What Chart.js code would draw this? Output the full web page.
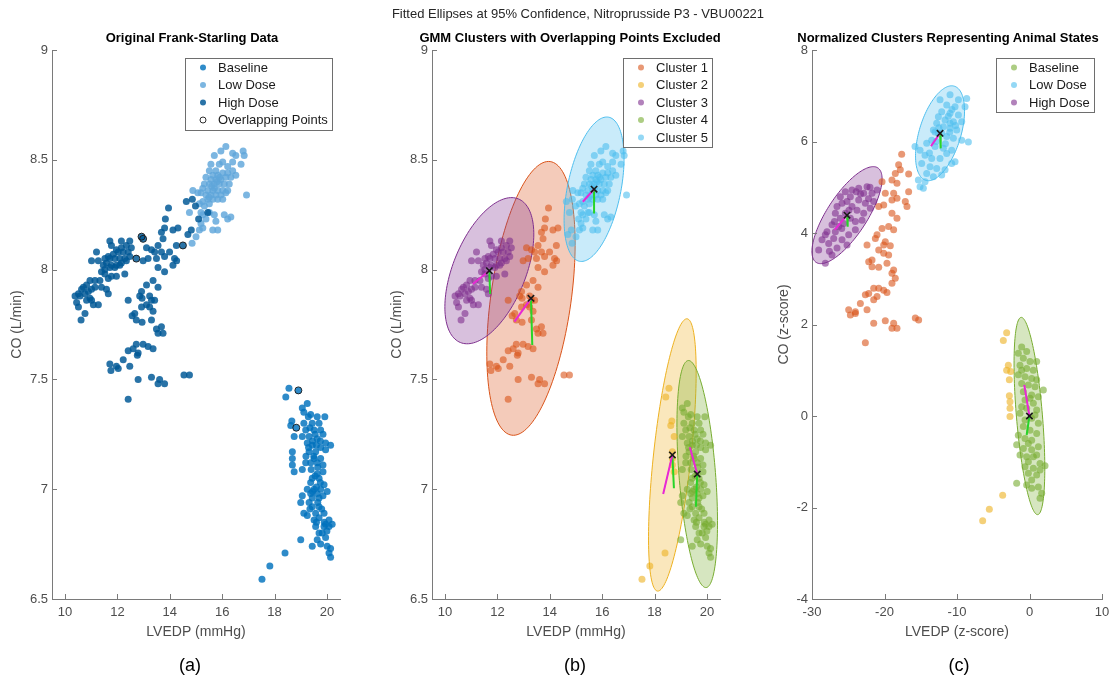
<!DOCTYPE html>
<html>
<head>
<meta charset="utf-8">
<title>Fitted Ellipses at 95% Confidence</title>
<script src="https://cdn.jsdelivr.net/npm/chart.js@4.4.1/dist/chart.umd.min.js"></script>
<style>
  body { margin: 0; background: #fff; font-family: "Liberation Sans", Arial, sans-serif; }
  #page { position: relative; width: 1114px; height: 680px; overflow: hidden; }
  canvas { position: absolute; top: 0; }
  .txt { position: absolute; white-space: nowrap; transform: translateX(-50%); }
  .sup { top: 6px; font-size: 13px; line-height: 16px; color: #262626; }
  .sub { top: 30px; font-size: 13px; line-height: 16px; font-weight: bold; color: #000; }
  .tag { top: 655px; font-size: 18px; line-height: 21px; color: #000; }
</style>
</head>
<body>
<div id="page">
  <canvas id="chartA" width="370" height="680" style="left:0"></canvas>
  <canvas id="chartB" width="370" height="680" style="left:370px"></canvas>
  <canvas id="chartC" width="374" height="680" style="left:740px"></canvas>
  <div class="txt sup" style="left:578px">Fitted Ellipses at 95% Confidence, Nitroprusside P3 - VBU00221</div>
  <div class="txt sub" style="left:192px">Original Frank-Starling Data</div>
  <div class="txt sub" style="left:570px">GMM Clusters with Overlapping Points Excluded</div>
  <div class="txt sub" style="left:948px">Normalized Clusters Representing Animal States</div>
  <div class="txt tag" style="left:190px">(a)</div>
  <div class="txt tag" style="left:575px">(b)</div>
  <div class="txt tag" style="left:959px">(c)</div>
</div>
<script>
// raw points: [LVEDP, CO, GMM cluster]; cluster 0 = overlapping point (dropped in b)
const baseline = [
  [18.55,7.46,2],[18.91,7.45,0],[18.43,7.42,2],[19.25,7.39,4],[19.06,7.37,4],[19.12,7.35,4],[19.38,7.34,4],
  [19.29,7.33,4],[19.63,7.33,4],[19.92,7.33,4],[18.66,7.31,2],[18.83,7.28,0],[18.62,7.29,2],[19.12,7.30,4],
  [19.44,7.30,4],[19.70,7.30,4],[19.19,7.27,4],[19.51,7.27,4],[19.76,7.27,4],[18.75,7.24,2],[19.06,7.24,4],
  [19.32,7.24,4],[19.63,7.23,4],[19.95,7.21,4],[20.14,7.20,4],[19.25,7.21,4],[19.44,7.20,4],[19.76,7.19,4],
  [19.95,7.18,4],[18.68,7.17,2],[19.32,7.17,4],[19.57,7.17,4],[18.68,7.14,2],[19.51,7.14,4],[19.76,7.14,4],
  [18.68,7.11,2],[19.19,7.12,4],[19.38,7.12,4],[19.63,7.12,4],[19.85,7.11,4],[18.75,7.08,2],[19.06,7.09,4],
  [19.85,7.08,4],[19.44,7.05,4],[19.63,7.07,4],[19.70,7.05,4],[19.38,7.03,4],[19.89,7.02,4],[19.25,7.00,4],
  [19.51,7.00,4],[19.76,7.00,4],[20.01,6.99,4],[19.38,6.98,4],[19.63,6.98,4],[19.06,6.97,4],[19.44,6.96,4],
  [19.70,6.96,4],[19.00,6.94,4],[19.32,6.94,4],[19.70,6.92,4],[19.44,6.92,4],[19.12,6.89,4],[19.25,6.88,4],
  [19.57,6.89,4],[19.89,6.89,4],[19.70,6.87,4],[19.51,6.86,4],[20.08,6.86,4],[19.95,6.84,4],[20.20,6.84,4],
  [19.57,6.83,4],[19.89,6.83,4],[20.08,6.83,4],[19.82,6.80,4],[19.95,6.78,4],[19.00,6.77,4],[19.63,6.77,4],
  [19.76,6.75,4],[19.44,6.74,4],[20.01,6.74,4],[20.14,6.73,4],[20.08,6.71,4],[20.14,6.69,4],[18.40,6.71,2],
  [17.82,6.65,2],[17.52,6.59,2],[19.35,7.28,4],[19.55,7.25,4],[19.45,7.22,4],[19.60,7.20,4],[19.30,7.19,4],
  [19.50,7.15,4],[19.65,7.10,4],[19.40,7.09,4],[19.55,7.06,4],[19.75,7.03,4],[19.60,7.01,4],[19.85,6.97,4],
  [19.45,6.99,4],[19.65,6.94,4],[19.80,6.91,4],[19.35,6.91,4],[19.90,6.85,4],[19.60,6.85,4],[19.70,6.80,4],
  [20.00,6.81,4],[19.75,7.22,4],[19.20,7.15,4],[19.85,7.25,4]
];
const lowDose = [
  [16.14,8.56,5],[15.95,8.54,5],[15.70,8.52,5],[16.40,8.53,5],[16.52,8.52,5],[16.80,8.54,5],[16.84,8.52,5],
  [16.72,8.48,5],[16.40,8.49,5],[16.21,8.47,5],[16.02,8.49,5],[15.89,8.48,5],[15.57,8.48,5],[15.76,8.45,5],
  [15.51,8.45,5],[15.64,8.43,5],[15.83,8.43,5],[16.02,8.44,5],[16.21,8.44,5],[16.40,8.45,5],[16.52,8.43,5],
  [16.33,8.42,5],[16.14,8.42,5],[15.95,8.41,5],[15.76,8.41,5],[15.57,8.41,5],[15.38,8.42,5],[15.32,8.39,5],
  [15.51,8.39,5],[15.70,8.39,5],[15.89,8.39,5],[16.08,8.39,5],[16.27,8.39,5],[15.26,8.37,5],[15.45,8.36,5],
  [15.64,8.36,5],[15.83,8.36,5],[16.02,8.36,5],[16.21,8.36,5],[15.19,8.35,5],[15.38,8.34,5],[15.57,8.34,5],
  [15.76,8.34,5],[15.95,8.34,5],[16.14,8.35,5],[15.45,8.32,5],[15.64,8.32,5],[15.83,8.32,5],[16.02,8.32,5],
  [14.88,8.36,5],[15.07,8.35,5],[15.26,8.31,5],[16.93,8.34,5],[15.13,8.30,5],[15.32,8.29,5],[15.51,8.30,5],
  [14.75,8.26,5],[15.19,8.26,5],[15.26,8.25,5],[15.51,8.26,5],[15.70,8.25,5],[16.08,8.25,5],[16.21,8.23,5],
  [16.33,8.24,5],[15.76,8.22,5],[15.19,8.21,5],[15.26,8.19,5],[15.64,8.18,5],[15.83,8.18,5],[15.00,8.15,5],
  [14.85,8.12,5],[15.13,8.18,5],[15.38,8.23,5],[15.60,8.38,5],[15.80,8.40,5],[15.70,8.37,5],[15.90,8.42,5],
  [15.50,8.33,5]
];
const highDose = [
  [11.71,8.13,3],[12.15,8.13,3],[12.47,8.13,3],[12.92,8.15,0],[12.98,8.14,0],[11.77,8.11,3],[11.96,8.09,3],
  [12.15,8.10,3],[12.34,8.11,3],[12.53,8.10,3],[12.41,8.08,3],[12.22,8.08,3],[12.03,8.08,3],[11.84,8.07,3],
  [11.65,8.06,3],[11.52,8.05,3],[11.71,8.05,3],[11.90,8.05,3],[12.09,8.05,3],[12.28,8.05,3],[12.47,8.06,3],
  [12.34,8.04,3],[12.15,8.03,3],[11.96,8.02,3],[11.77,8.02,3],[11.58,8.03,3],[11.46,8.02,3],[11.52,8.00,3],
  [11.71,8.01,3],[11.90,8.01,3],[12.09,8.02,3],[11.27,8.04,3],[11.01,8.04,3],[11.20,8.08,3],[11.39,7.99,3],
  [11.52,7.98,3],[11.65,7.96,3],[11.77,7.97,3],[11.96,7.97,3],[12.28,7.98,3],[11.33,7.95,3],[11.14,7.95,3],
  [10.95,7.95,3],[10.82,7.93,3],[10.70,7.92,3],[10.63,7.91,3],[10.51,7.89,3],[10.38,7.88,3],[10.57,7.88,3],
  [10.76,7.89,3],[10.89,7.90,3],[11.01,7.91,3],[11.14,7.92,3],[10.95,7.87,3],[10.82,7.86,3],[11.01,7.86,3],
  [11.08,7.84,3],[11.27,7.84,3],[10.44,7.85,3],[10.51,7.83,3],[10.76,7.80,3],[10.61,7.77,3],[11.58,7.91,3],
  [11.65,7.89,3],[11.39,7.92,3],
  [12.72,8.05,0],[12.98,8.04,1],[13.17,8.05,1],[13.11,8.10,1],[13.30,8.09,1],[13.42,8.08,1],[13.55,8.11,1],
  [13.74,8.14,1],[13.68,8.17,1],[13.80,8.19,1],[14.12,8.18,1],[14.31,8.19,1],[14.50,8.11,0],[14.25,8.11,1],
  [14.69,8.16,5],[13.68,8.08,1],[13.80,8.06,1],[13.99,8.08,1],[14.18,8.05,1],[14.12,8.02,1],[13.55,8.01,1],
  [13.80,7.99,1],[13.49,8.05,1],[13.36,7.95,1],[13.55,7.92,1],[13.11,7.93,1],[12.92,7.90,1],[12.85,7.88,1],
  [12.94,7.87,1],[12.41,7.86,1],[13.23,7.88,1],[13.30,7.86,1],[13.42,7.86,1],[13.11,7.84,1],[12.92,7.83,1],
  [13.23,7.83,1],[13.36,7.81,1],[12.66,7.80,1],[12.56,7.79,1],[12.72,7.77,1],[12.94,7.76,1],[13.30,7.77,1],
  [13.49,7.73,1],[13.68,7.74,1],[13.55,7.71,1],[13.74,7.71,1],
  [12.72,7.66,1],[12.98,7.66,1],[13.17,7.65,1],[13.36,7.64,1],[12.60,7.64,1],[12.41,7.63,1],[12.79,7.62,1],
  [12.76,7.61,1],[12.22,7.59,1],[11.96,7.56,1],[11.71,7.57,1],[12.03,7.55,1],[11.75,7.54,1],[12.47,7.56,1],
  [12.79,7.50,1],[13.30,7.51,1],[13.61,7.50,1],[13.55,7.48,1],[13.80,7.48,1],[14.54,7.52,1],[14.75,7.52,1],
  [12.41,7.41,1],
  [13.95,8.28,1],[13.83,8.23,1],[14.63,8.31,5],[14.86,8.32,5],[15.45,8.26,5],[15.10,8.23,5],[14.98,8.29,5],
  [14.82,8.18,5],[14.26,8.04,1]
];

// z-scored points per cluster (relative to baseline)
const zBaseline = [
  [-1.08,1.51],[-1.54,1.37],[-0.85,1.26],[0.07,1.19],[0.99,1.19],[-1.31,1.11],[-0.39,1.04],[0.53,1.00],
  [-1.54,0.90],[-0.62,0.86],[0.30,0.82],[0.99,0.79],[-1.08,0.71],[-0.16,0.68],[0.76,0.64],[1.91,0.57],
  [-0.85,0.53],[0.30,0.46],[1.22,0.42],[-0.62,0.35],[0.53,0.28],[-0.39,0.17],[0.99,0.13],[-1.31,0.06],
  [0.30,-0.05],[1.22,-0.16],[-0.85,-0.23],[0.07,-0.31],[0.99,-0.38],[-1.54,-0.42],[-0.62,-0.49],[0.30,-0.53],
  [-1.77,-0.63],[-0.85,-0.71],[0.30,-0.74],[1.22,-0.67],[-1.31,-0.85],[-0.39,-0.89],[0.99,-0.85],[-0.16,-1.00],
  [1.45,-1.04],[2.14,-1.09],[-0.62,-1.11],[0.53,-1.14],[1.45,-1.18],[-0.16,-1.25],[0.99,-1.29],[0.30,-1.40],
  [-1.77,-1.47],[-0.39,-1.51],[1.22,-1.55],[0.30,-1.58],[1.68,-1.69],[1.45,-1.80],[-1.08,1.00],[-0.39,1.41],
  [-0.62,-0.09],[0.76,0.02],[-1.08,0.20],[0.07,0.39],[-0.16,-0.60],[0.53,-0.89]
];
const zLowDose = [
  [-10.96,7.02],[-9.81,6.91],[-8.66,6.94],[-8.89,6.76],[-10.27,6.76],[-11.42,6.80],[-12.11,6.65],[-10.96,6.62],
  [-9.81,6.58],[-9.35,6.43],[-10.50,6.43],[-11.65,6.47],[-12.57,6.54],[-12.80,6.40],[-11.88,6.32],[-10.96,6.29],
  [-10.04,6.25],[-13.26,6.25],[-12.57,6.18],[-11.42,6.11],[-10.50,6.07],[-13.49,6.03],[-14.18,5.96],[-13.03,5.89],
  [-11.88,5.85],[-15.10,5.81],[-15.79,5.89],[-14.41,5.70],[-13.49,5.63],[-12.34,5.63],[-11.42,5.74],[-14.87,5.52],
  [-13.72,5.45],[-12.80,5.41],[-11.65,5.38],[-10.73,5.52],[-10.27,5.56],[-14.18,5.30],[-13.26,5.23],[-12.11,5.27],
  [-15.33,5.16],[-14.41,5.12],[-15.10,5.01],[-14.64,4.98],[-8.43,5.99],[-12.34,6.91],[-9.35,6.03],[-10.73,5.81],
  [-13.03,6.21],[-10.96,6.40],[-12.11,6.18],[-11.20,6.55],[-10.70,6.70],[-12.90,6.00],[-11.60,5.95],[-13.80,5.75],
  [-10.20,6.35],[-12.50,6.30],[-11.00,6.20]
];
const zHighDose = [
  [-28.16,3.34],[-29.08,3.63],[-28.62,3.85],[-27.70,3.77],[-27.01,3.88],[-27.93,4.03],[-26.78,4.03],[-27.24,4.18],
  [-26.32,4.14],[-25.63,4.21],[-26.09,4.32],[-26.78,4.43],[-25.40,4.43],[-24.71,4.32],[-24.02,4.25],[-23.10,4.28],
  [-24.48,4.58],[-25.17,4.69],[-25.86,4.65],[-23.56,4.72],[-22.64,4.65],[-21.95,4.54],[-22.87,4.87],[-21.72,4.87],
  [-23.56,4.98],[-22.41,5.01],[-24.48,4.94],[-24.71,4.79],[-26.09,4.79],[-25.40,4.90],[-21.49,4.69],[-26.55,4.58],
  [-28.16,3.96],[-25.86,3.85],[-24.94,3.96],[-25.17,3.74],[-26.55,3.67],[-24.02,4.07],[-22.87,4.43],[-23.79,4.50],
  [-21.03,4.94],[-27.24,3.52],[-23.30,4.85],[-22.20,4.75],[-24.90,4.50],[-25.90,4.10],[-27.60,3.60],[-22.00,5.00],
  [-23.90,4.90],[-26.90,4.25]
];
const zCluster1 = [
  [-18.05,5.49],[-18.51,5.30],[-17.82,5.38],[-16.67,5.29],[-18.97,5.16],[-18.28,5.09],[-20.34,5.12],[-19.89,4.87],
  [-18.74,4.87],[-18.28,4.76],[-18.97,4.72],[-17.13,4.69],[-16.67,4.90],[-16.90,4.58],[-20.11,4.61],[-20.80,4.58],
  [-18.97,4.43],[-18.28,4.32],[-19.43,4.14],[-18.74,4.07],[-20.34,4.10],[-21.03,3.96],[-21.26,3.88],[-19.89,3.81],
  [-20.11,3.74],[-19.20,3.72],[-20.80,3.63],[-20.11,3.56],[-22.41,3.74],[-19.43,3.52],[-21.72,3.41],[-22.18,3.37],
  [-21.72,3.26],[-20.80,3.25],[-19.66,3.34],[-18.74,3.19],[-18.97,3.12],[-18.51,3.01],[-18.97,2.90],[-21.49,2.79],
  [-20.80,2.79],[-20.11,2.75],[-19.66,2.70],[-22.18,2.68],[-22.64,2.65],[-21.03,2.61],[-21.49,2.54],[-23.33,2.46],
  [-22.41,2.32],[-24.94,2.32],[-24.02,2.28],[-24.71,2.21],[-24.02,2.24],[-21.49,2.03],[-19.89,2.08],[-18.74,2.03],
  [-18.97,1.92],[-18.28,1.92],[-15.75,2.14],[-15.29,2.10],[-22.64,1.60],[-17.63,5.72]
];
const zCluster2 = [
  [-3.15,1.82],[-3.61,1.65],[-2.92,1.11],[-3.15,1.00],[-2.60,0.97],[-2.78,0.79],[-2.78,0.44],[-2.69,0.31],
  [-2.69,0.17],[-2.69,-0.01],[-3.70,-1.73],[-5.54,-2.04],[-6.46,-2.29]
];

// GMM fit (b): centre, end of magenta / green direction lines, 95% ellipse semi-axis vectors [px, py, qx, qy]
const centresB = [[13.28,7.869],[18.68,7.156],[11.69,7.995],[19.63,7.069],[15.69,8.366]];
const magentaEndB = [[12.65,7.763],[18.33,6.978],[11.06,7.934],[19.35,7.191],[15.26,8.309]];
const greenEndB = [[13.33,7.657],[18.74,7.004],[11.72,7.889],[19.58,6.920],[15.69,8.256]];
const axesB = [[0.734,0.623,-1.519,0.025],[0.565,0.620,-0.713,0.009],[1.107,0.327,-1.288,0.062],[-0.341,0.517,-0.696,-0.007],[0.560,0.328,-0.999,0.024]];

// normalized fit (c), in the order Baseline, Low Dose, High Dose
const stateNames = ['Baseline', 'Low Dose', 'High Dose'];
const stateClusters = [4, 5, 3];
const centresC = [[-0.01,0.0],[-12.34,6.18],[-25.17,4.39]];
const magentaEndC = [[-0.72,0.68],[-13.59,5.90],[-26.87,4.066]];
const greenEndC = [[-0.39,-0.415],[-12.25,5.85],[-25.08,4.138]];
const axesC = [[-1.142,2.156,-1.787,-0.024],[1.973,1.029,-2.745,0.132],[4.25,1.033,-2.31,0.239]];

const xTicksAB = [10, 12, 14, 16, 18, 20];
const yTicksAB = [6.5, 7, 7.5, 8, 8.5, 9];
const xTicksC = [-30, -20, -10, 0, 10];
const yTicksC = [-4, -2, 0, 2, 4, 6, 8];

const FONT = '"Liberation Sans", Arial, sans-serif';
const AXIS_GRAY = '#7a7a7a';
const TICK_GRAY = '#4d4d4d';
const MAGENTA = 'rgb(232,40,212)';
const GREEN = 'rgb(40,212,40)';
const clusterColors = ['#D95319', '#EDB120', '#7E2F8E', '#77AC30', '#4DBEEE'];

function rgba(hex, a) {
  const n = parseInt(hex.slice(1), 16);
  return 'rgba(' + (n >> 16) + ',' + ((n >> 8) & 255) + ',' + (n & 255) + ',' + a + ')';
}
const toXY = rows => rows.map(r => ({x: r[0], y: r[1]}));
const allRaw = baseline.concat(lowDose, highDose);

function pointSet(label, rows, color, order) {
  return {label: label, data: toXY(rows), backgroundColor: color, borderWidth: 0, pointRadius: 3.5, order: order};
}

function segment(a, b, color) {
  return {data: toXY([a, b]), showLine: true, borderColor: color, borderWidth: 2, pointRadius: 0, order: -1};
}

function fitOverlays(centres, magentaEnds, greenEnds) {
  const sets = [];
  centres.forEach((c, i) => {
    sets.push(segment(c, magentaEnds[i], MAGENTA));
    sets.push(segment(c, greenEnds[i], GREEN));
  });
  sets.push({data: toXY(centres), pointStyle: 'crossRot', pointRadius: 4.5, borderColor: '#1a1a1a',
    borderWidth: 1.6, backgroundColor: 'rgba(0,0,0,0)', order: -2});
  return sets;
}

const ellipsePlugin = {
  id: 'ellipses',
  beforeDatasetsDraw(chart, args, opts) {
    const {ctx, scales: {x, y}} = chart;
    ctx.save();
    opts.items.forEach(e => {
      ctx.beginPath();
      for (let i = 0; i <= 144; i++) {
        const t = i / 144 * Math.PI * 2;
        const px = x.getPixelForValue(e.c[0] + e.ax[0] * Math.cos(t) + e.ax[2] * Math.sin(t));
        const py = y.getPixelForValue(e.c[1] + e.ax[1] * Math.cos(t) + e.ax[3] * Math.sin(t));
        if (i === 0) ctx.moveTo(px, py); else ctx.lineTo(px, py);
      }
      ctx.closePath();
      ctx.fillStyle = rgba(e.color, 0.3);
      ctx.fill();
      ctx.strokeStyle = e.color;
      ctx.lineWidth = 1;
      ctx.stroke();
    });
    ctx.restore();
  }
};

// tick marks point into the plot, left and bottom axes only
const innerTicks = {
  id: 'innerTicks',
  afterDraw(chart) {
    const {ctx, chartArea: a, scales: {x, y}} = chart;
    ctx.save();
    ctx.strokeStyle = AXIS_GRAY;
    ctx.lineWidth = 1;
    ctx.beginPath();
    x.ticks.forEach(t => {
      const p = Math.round(x.getPixelForValue(t.value)) + 0.5;
      ctx.moveTo(p, a.bottom);
      ctx.lineTo(p, a.bottom - 5);
    });
    y.ticks.forEach(t => {
      const p = Math.round(y.getPixelForValue(t.value)) + 0.5;
      ctx.moveTo(a.left, p);
      ctx.lineTo(a.left + 5, p);
    });
    ctx.stroke();
    ctx.restore();
  }
};

const legendBox = {
  id: 'legendBox',
  afterDraw(chart, args, opts) {
    const {ctx, chartArea: a} = chart;
    const sets = opts.items.map(i => chart.data.datasets[i]);
    ctx.save();
    ctx.font = '13px ' + FONT;
    const w = Math.round(33 + Math.max(...sets.map(d => ctx.measureText(d.label).width)) + 4);
    const h = Math.round(sets.length * 17.5 + 1.5);
    const left = Math.round(a.right - 8 - w);
    const top = Math.round(a.top + 8);
    ctx.fillStyle = '#fff';
    ctx.fillRect(left, top, w, h);
    ctx.strokeStyle = '#6e6e6e';
    ctx.lineWidth = 1;
    ctx.strokeRect(left + 0.5, top + 0.5, w, h);
    sets.forEach((d, k) => {
      const cy = top + 9.5 + k * 17.5;
      ctx.beginPath();
      ctx.arc(left + 18, cy, 3, 0, Math.PI * 2);
      ctx.fillStyle = d.backgroundColor;
      ctx.fill();
      if (d.borderWidth) {
        ctx.strokeStyle = d.borderColor;
        ctx.lineWidth = 1;
        ctx.stroke();
      }
      ctx.fillStyle = '#1a1a1a';
      ctx.textBaseline = 'middle';
      ctx.fillText(d.label, left + 33, cy + 0.5);
    });
    ctx.restore();
  }
};

function axis(min, max, ticks, title, isY, width, titlePad) {
  return {
    type: 'linear', min: min, max: max,
    afterBuildTicks: s => { s.ticks = ticks.map(v => ({value: v})); },
    afterFit: s => {
      if (isY) s.width = width; else s.height = 42;
      s.paddingLeft = s.paddingRight = s.paddingTop = s.paddingBottom = 0;
    },
    grid: {drawOnChartArea: false, drawTicks: false},
    border: {color: AXIS_GRAY, width: 1},
    ticks: {color: TICK_GRAY, font: {family: FONT, size: 13}, padding: isY ? 4 : 6,
      autoSkip: false, maxRotation: 0, callback: v => String(v)},
    title: {display: true, text: title, color: TICK_GRAY, font: {family: FONT, size: 14},
      padding: isY ? {top: titlePad, bottom: 0} : {top: 0, bottom: 0}}
  };
}

function buildChart(id, cfg) {
  return new Chart(document.getElementById(id), {
    type: 'scatter',
    data: {datasets: cfg.datasets},
    plugins: [ellipsePlugin, innerTicks, legendBox],
    options: {
      responsive: false,
      animation: false,
      events: [],
      layout: {padding: {left: cfg.padLeft, right: cfg.padRight, top: 50, bottom: 39}},
      plugins: {
        legend: {display: false},
        tooltip: {enabled: false},
        ellipses: {items: cfg.ellipses},
        legendBox: {items: cfg.legendItems}
      },
      scales: {
        x: axis(cfg.xRange[0], cfg.xRange[1], cfg.xTicks, cfg.xTitle, false),
        y: axis(cfg.yRange[0], cfg.yRange[1], cfg.yTicks, cfg.yTitle, true, cfg.yWidth, 5)
      }
    }
  });
}

// (a) raw data by dose, overlapping points ringed
buildChart('chartA', {
  datasets: [
    pointSet('Baseline', baseline, 'rgba(0,114,189,0.82)', 4),
    pointSet('Low Dose', lowDose, 'rgba(95,166,218,0.82)', 3),
    pointSet('High Dose', highDose, 'rgba(0,88,150,0.84)', 2),
    {label: 'Overlapping Points', data: toXY(allRaw.filter(r => r[2] === 0)), backgroundColor: 'rgba(0,0,0,0)',
      borderColor: 'rgba(25,25,25,0.9)', borderWidth: 1, pointRadius: 3.5, order: 1}
  ],
  legendItems: [0, 1, 2, 3],
  ellipses: [],
  padLeft: 4, padRight: 30, yWidth: 48,
  xRange: [9.5, 20.5], yRange: [6.5, 9], xTicks: xTicksAB, yTicks: yTicksAB,
  xTitle: 'LVEDP (mmHg)', yTitle: 'CO (L/min)'
});

// (b) GMM clusters
buildChart('chartB', {
  datasets: clusterColors.map((c, i) => pointSet('Cluster ' + (i + 1), allRaw.filter(r => r[2] === i + 1), rgba(c, 0.6), 1))
    .concat(fitOverlays(centresB, magentaEndB, greenEndB)),
  legendItems: [0, 1, 2, 3, 4],
  ellipses: centresB.map((c, i) => ({c: c, ax: axesB[i], color: clusterColors[i]})),
  padLeft: 14, padRight: 20, yWidth: 48,
  xRange: [9.5, 20.5], yRange: [6.5, 9], xTicks: xTicksAB, yTicks: yTicksAB,
  xTitle: 'LVEDP (mmHg)', yTitle: 'CO (L/min)'
});

// (c) z-scored clusters labelled as animal states
const zStates = [zBaseline, zLowDose, zHighDose];
buildChart('chartC', {
  datasets: stateNames.map((n, i) => pointSet(n, zStates[i], rgba(clusterColors[stateClusters[i] - 1], 0.6), 1))
    .concat([
      pointSet('', zCluster1, rgba(clusterColors[0], 0.6), 2),
      pointSet('', zCluster2, rgba(clusterColors[1], 0.6), 2)
    ])
    .concat(fitOverlays(centresC, magentaEndC, greenEndC)),
  legendItems: [0, 1, 2],
  ellipses: centresC.map((c, i) => ({c: c, ax: axesC[i], color: clusterColors[stateClusters[i] - 1]})),
  padLeft: 31, padRight: 12, yWidth: 41,
  xRange: [-30, 10], yRange: [-4, 8], xTicks: xTicksC, yTicks: yTicksC,
  xTitle: 'LVEDP (z-score)', yTitle: 'CO (z-score)'
});
</script>
</body>
</html>
